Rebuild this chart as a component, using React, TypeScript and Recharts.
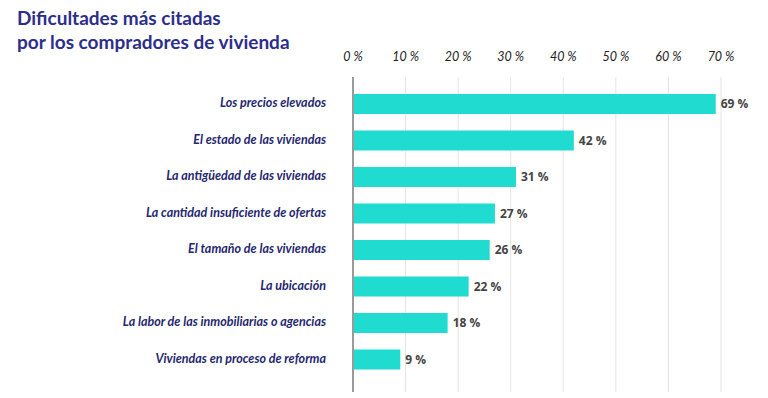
import { BarChart, Bar, XAxis, YAxis, CartesianGrid, LabelList } from "recharts";

const categories = [
  "Los precios elevados",
  "El estado de las viviendas",
  "La antigüedad de las viviendas",
  "La cantidad insuficiente de ofertas",
  "El tamaño de las viviendas",
  "La ubicación",
  "La labor de las inmobiliarias o agencias",
  "Viviendas en proceso de reforma",
];

const values = [69, 42, 31, 27, 26, 22, 18, 9];

const xTicks = [0, 10, 20, 30, 40, 50, 60, 70];

const data = categories.map((name, i) => ({ name, value: values[i] }));

const NAVY = "#25276f";

function TopTick(props: any) {
  const { x, payload } = props;
  return (
    <text
      x={x}
      y={58}
      textAnchor="middle"
      dominantBaseline="middle"
      fontFamily="Lato"
      fontStyle="italic"
      fontSize={12.5}
      fill="#222"
    >
      {payload.value} %
    </text>
  );
}

function CatTick(props: any) {
  const { x, y, payload } = props;
  return (
    <text
      x={x - 19}
      y={y}
      textAnchor="end"
      dominantBaseline="middle"
      fontFamily="Lato"
      fontStyle="italic"
      fontWeight={700}
      fontSize={12.5}
      fill={NAVY}
    >
      {payload.value}
    </text>
  );
}

export default function App() {
  return (
    <div style={{ position: "absolute", left: 0, top: 0, width: 768, height: 398, background: "#fff" }}>
      <div
        style={{
          position: "absolute",
          left: 17,
          top: 6,
          fontFamily: "Lato",
          fontWeight: 700,
          fontSize: 19,
          lineHeight: "24px",
          color: "#2c2e8c",
        }}
      >
        Dificultades más citadas
        <br />
        por los compradores de vivienda
      </div>
      <BarChart
        width={768}
        height={398}
        data={data}
        layout="vertical"
        margin={{ top: 47, right: 47, bottom: 6, left: 0 }}
        barSize={20}
      >
        <CartesianGrid horizontal={false} stroke="#e4e4e4" />
        <XAxis
          type="number"
          orientation="top"
          domain={[0, 70]}
          ticks={xTicks}
          height={30}
          axisLine={false}
          tickLine={false}
          tick={<TopTick />}
        />
        <YAxis
          type="category"
          dataKey="name"
          width={353}
          padding={{ top: 9, bottom: 14 }}
          axisLine={{ stroke: "#9a9a9a", strokeWidth: 2 }}
          tickLine={false}
          tick={<CatTick />}
          interval={0}
        />
        <Bar dataKey="value" fill="#20dbcf" isAnimationActive={false}>
          <LabelList
            dataKey="value"
            position="right"
            offset={5}
            formatter={(v: any) => `${v} %`}
            style={{ fontFamily: "Open Sans", fontWeight: 700, fontSize: 12, fill: "#444" }}
          />
        </Bar>
      </BarChart>
    </div>
  );
}
